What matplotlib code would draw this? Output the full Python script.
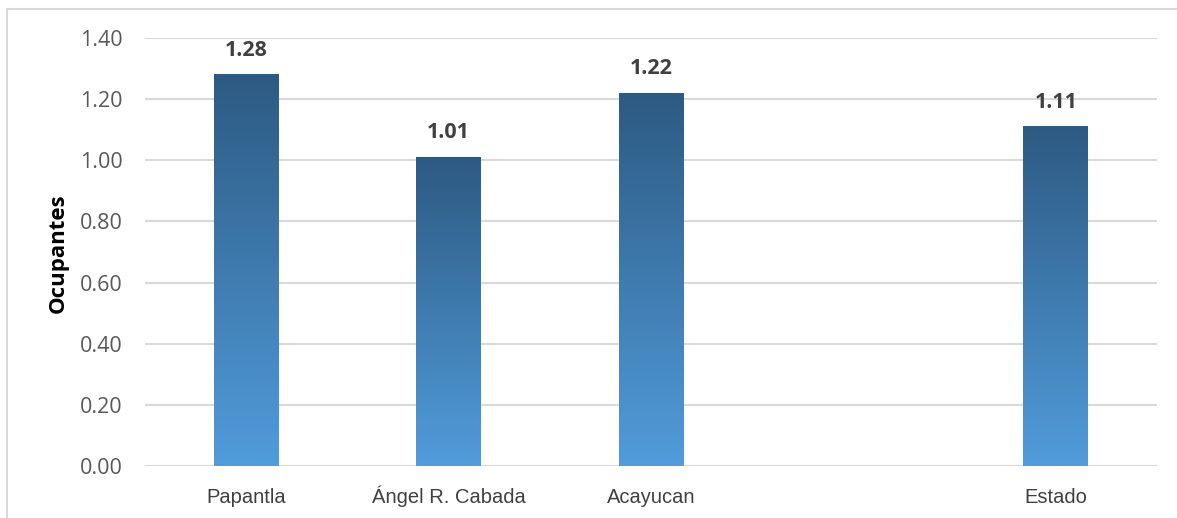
import matplotlib
matplotlib.use("Agg")
import matplotlib.pyplot as plt
import numpy as np
from matplotlib.colors import LinearSegmentedColormap
from matplotlib.patches import Rectangle
from matplotlib import font_manager

categories = ["Papantla", "Ángel R. Cabada", "Acayucan", "", "Estado"]
values = [1.28, 1.01, 1.22, None, 1.11]
y_ticks = [0.0, 0.2, 0.4, 0.6, 0.8, 1.0, 1.2, 1.4]

available = {f.name for f in font_manager.fontManager.ttflist}
narrow = "Liberation Sans Narrow" if "Liberation Sans Narrow" in available else "Liberation Sans"

W, H = 1177, 518
fig = plt.figure(figsize=(W / 100, H / 100), dpi=100)
ax = fig.add_axes([145 / W, 1 - 466 / H, (1157 - 145) / W, (466 - 38) / H])

# outer chart frame
fig.patches.append(Rectangle((7 / W, -0.1), 1.2, 1 - 9 / H + 0.1,
                             transform=fig.transFigure, fill=False,
                             edgecolor="#d9d9d9", linewidth=1.5))

grad = LinearSegmentedColormap.from_list("bar", ["#519cdb", "#2d5a82"])
bar_w = 0.32
for i, v in enumerate(values):
    if v is None:
        continue
    img = np.linspace(0, 1, 256).reshape(-1, 1)
    ax.imshow(img, cmap=grad, origin="lower", aspect="auto",
              extent=(i - bar_w / 2, i + bar_w / 2, 0, v), zorder=2)
    ax.text(i, v + 0.045, f"{v:.2f}", ha="center", va="bottom",
            fontsize=15.5, fontweight="bold", color="#404040",
            family="Open Sans")

ax.set_xlim(-0.5, len(categories) - 0.5)
ax.set_ylim(0, 1.4)
ax.set_yticks(y_ticks)
ax.set_yticklabels([f"{t:.2f}" for t in y_ticks], fontsize=15.5,
                   color="#595959", family="Open Sans")
ax.set_xticks(range(len(categories)))
ax.set_xticklabels(categories, fontsize=14.5, color="#404040", family=narrow,
                   va="baseline")
ax.tick_params(axis="both", length=0)
ax.tick_params(axis="y", pad=16)
ax.tick_params(axis="x", pad=26.5)
ax.grid(axis="y", color="#d9d9d9", linewidth=1.5, zorder=0)
ax.set_axisbelow(True)
for s in ax.spines.values():
    s.set_visible(False)

fig.text(58 / W, 1 - 253 / H, "Ocupantes", rotation=90, ha="center",
         va="center", fontsize=16, fontweight="bold", color="black",
         family="Open Sans")

fig.savefig("out.png", dpi=100)
